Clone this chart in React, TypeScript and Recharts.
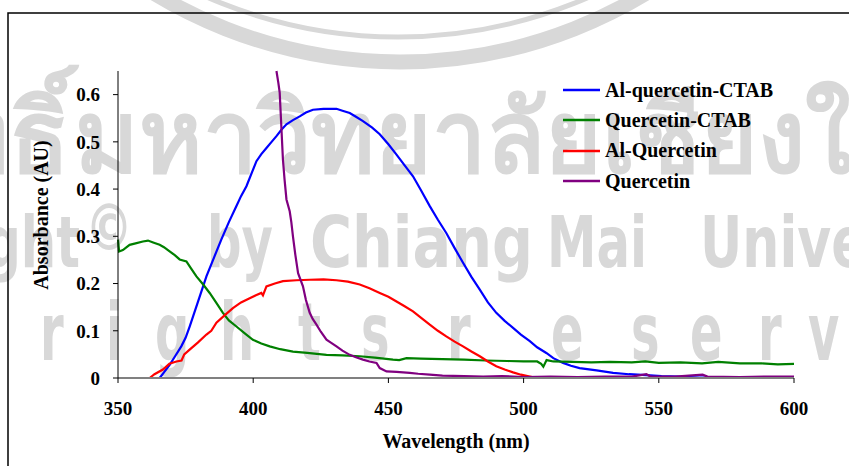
import React from 'react';
import { LineChart, Line, XAxis, YAxis, Legend } from 'recharts';

// [wavelength nm, absorbance AU]
const alQuercetinCtab: [number, number][] = [
  [365.4, 0], [367, 0.012], [369.1, 0.028], [371, 0.045], [373.4, 0.067], [375, 0.085],
  [376.5, 0.109], [379.5, 0.16], [382.7, 0.215], [385.5, 0.255], [388.2, 0.293], [391, 0.33],
  [393.8, 0.364], [395.5, 0.385], [397.5, 0.406], [399.5, 0.435], [401.2, 0.459], [403, 0.474],
  [404.9, 0.487], [406.8, 0.5], [408.6, 0.512], [410.5, 0.526], [412.3, 0.537], [414.7, 0.546],
  [417.2, 0.554], [419.5, 0.562], [422.1, 0.568], [426, 0.57], [430.8, 0.57], [433, 0.566],
  [435.7, 0.561], [438, 0.553], [440.6, 0.544], [444, 0.53], [446.8, 0.516], [450, 0.495],
  [453, 0.473], [456, 0.45], [459.1, 0.427], [462, 0.398], [465.3, 0.364], [468.3, 0.335],
  [471.4, 0.307], [474.5, 0.275], [477.6, 0.244], [480.7, 0.214], [483.8, 0.187], [486.8, 0.16],
  [489.9, 0.138], [493, 0.121], [496.1, 0.106], [499, 0.092], [502.3, 0.078], [505, 0.065],
  [508.4, 0.053], [511, 0.042], [514.6, 0.032], [517.5, 0.026], [520.7, 0.021], [527, 0.016],
  [533.1, 0.011], [539, 0.008], [545.4, 0.006], [551, 0.004], [557.7, 0.003], [565, 0.001],
  [575, 0.001], [585, 0], [600, 0],
];

const quercetinCtab: [number, number][] = [
  [350, 0.293], [350.4, 0.268], [351.8, 0.271], [354.3, 0.282], [356.5, 0.285], [359.2, 0.289],
  [361.1, 0.291], [363, 0.287], [365.4, 0.282], [367, 0.277], [369.1, 0.268], [371, 0.26],
  [372.8, 0.251], [375.3, 0.247], [377, 0.232], [379, 0.215], [381.5, 0.198], [383.9, 0.18],
  [386.5, 0.158], [388.8, 0.138], [391, 0.122], [393.8, 0.109], [397, 0.094], [399.9, 0.081],
  [403, 0.073], [406.1, 0.067], [410, 0.061], [414.7, 0.056], [420, 0.053], [427.1, 0.049],
  [433, 0.048], [439.4, 0.046], [445, 0.043], [451.7, 0.039], [454, 0.038], [456.7, 0.042],
  [462, 0.041], [470, 0.04], [478, 0.039], [486, 0.037], [494, 0.036], [500, 0.035],
  [505, 0.035], [506.5, 0.03], [507.3, 0.024], [508.5, 0.038], [511, 0.035], [518, 0.034],
  [525, 0.033], [532, 0.034], [540, 0.033], [545, 0.035], [550, 0.032], [558, 0.033],
  [566, 0.031], [572, 0.034], [580, 0.031], [588, 0.031], [594, 0.029], [600, 0.03],
];

const alQuercetin: [number, number][] = [
  [361.7, 0], [363.5, 0.008], [366.6, 0.018], [369, 0.03], [371.6, 0.035], [373.5, 0.037],
  [374.5, 0.05], [376.5, 0.06], [379.5, 0.075], [382.7, 0.092], [384.5, 0.1], [386.4, 0.117],
  [389.5, 0.133], [392.5, 0.148], [395.5, 0.16], [398.7, 0.169], [401, 0.175], [403, 0.18],
  [403.6, 0.175], [404.9, 0.194], [408, 0.2], [411, 0.205], [416, 0.207], [420.9, 0.208],
  [426, 0.209], [430.8, 0.207], [435, 0.204], [439.4, 0.198], [443, 0.19], [446.8, 0.18],
  [450, 0.172], [453, 0.162], [456, 0.152], [459.1, 0.141], [462, 0.128], [465.3, 0.113],
  [468.3, 0.1], [471.4, 0.088], [474.5, 0.077], [477.6, 0.067], [480.7, 0.056], [483.8, 0.046],
  [486.8, 0.035], [489.9, 0.025], [493, 0.018], [496.1, 0.012], [499, 0.007], [502.3, 0.003],
  [505, 0],
];

const quercetin: [number, number][] = [
  [408.6, 0.65], [409.3, 0.625], [409.8, 0.604], [410.4, 0.533], [411, 0.462], [411.6, 0.42],
  [412.3, 0.378], [413.5, 0.353], [414.1, 0.33], [414.7, 0.3], [415.6, 0.26], [416.6, 0.222],
  [418.4, 0.194], [419.5, 0.165], [420.9, 0.138], [422, 0.125], [423.4, 0.113], [425, 0.098],
  [427.1, 0.081], [429, 0.074], [430.8, 0.067], [433, 0.058], [435.7, 0.049], [438, 0.044],
  [440.6, 0.039], [443, 0.035], [445.6, 0.032], [446.8, 0.021], [449.3, 0.014], [453, 0.013],
  [457.9, 0.011], [461, 0.009], [465.3, 0.007], [470, 0.005], [478, 0.004], [485, 0.003],
  [492, 0.004], [500, 0.002], [510, 0.003], [520, 0.002], [530, 0.003], [540, 0.003],
  [545.4, 0.008], [547, 0.003], [556, 0.003], [566.2, 0.007], [568, 0.003], [580, 0.002],
  [590, 0.003], [600, 0.003],
];

const xTicks = [350, 400, 450, 500, 550, 600];
const yTicks = [0, 0.1, 0.2, 0.3, 0.4, 0.5, 0.6];

const series = [
  { name: 'Al-quercetin-CTAB', color: '#0000ff', points: alQuercetinCtab },
  { name: 'Quercetin-CTAB', color: '#008000', points: quercetinCtab },
  { name: 'Al-Quercetin', color: '#ff0000', points: alQuercetin },
  { name: 'Quercetin', color: '#800080', points: quercetin },
];

const SERIF = '"Liberation Serif", "Times New Roman", serif';
const SANS = '"DejaVu Sans", "Noto Sans", sans-serif';
const GREY = '#d8d8d8';

const toRows = (points: [number, number][]) => points.map(([nm, au]) => ({ nm, au }));

const tickStyle = { fill: '#000', fontSize: 19, fontWeight: 700, fontFamily: SERIF };

// "All rights reserved" letters are spread out across the page
const reservedX = [-230, -175, -130, -90, 40, 106, 155, 220, 298, 361, 410, 447, 551, 631, 690, 758, 808, 870, 930];

function Watermark() {
  const sx = 0.6;
  return (
    <svg width={849} height={466} style={{ position: 'absolute', left: 0, top: 0 }}>
      <g fill="none" stroke={GREY}>
        <circle cx={400} cy={-412} r={474} strokeWidth={15} />
        <circle cx={398} cy={-441} r={478} strokeWidth={5} />
      </g>
      <g fill={GREY} fontFamily={SANS} fontWeight={700}>
        <text x={70} y={172} fontSize={100} textAnchor="end">ลิขสิทธิ์</text>
        <text x={75} y={172} fontSize={100} textLength={905} lengthAdjust="spacingAndGlyphs">มหาวิทยาลัยเชียงใหม่</text>
        <text x={-195} y={267} fontSize={72} textLength={275} lengthAdjust="spacingAndGlyphs">Copyright</text>
        <text x={85} y={250} fontSize={64} textLength={48} lengthAdjust="spacingAndGlyphs">©</text>
        <text x={207} y={267} fontSize={72} textLength={66} lengthAdjust="spacingAndGlyphs">by</text>
        <text x={310} y={267} fontSize={72} textLength={223} lengthAdjust="spacingAndGlyphs">Chiang</text>
        <text x={547} y={267} fontSize={72} textLength={100} lengthAdjust="spacingAndGlyphs">Mai</text>
        <text x={700} y={267} fontSize={72} textLength={300} lengthAdjust="spacingAndGlyphs">University</text>
        <g transform={`scale(${sx} 1)`}>
          <text x={reservedX.map((v) => v / sx).join(' ')} y={360} fontSize={80}>All rights reserved</text>
        </g>
      </g>
      <path d="M8 466 V13 H849" fill="none" stroke="#000" strokeWidth={1.5} />
    </svg>
  );
}

const renderLegend = () => (
  <div style={{ fontFamily: SERIF, fontWeight: 700, fontSize: 20, color: '#000' }}>
    {series.map((s) => (
      <div key={s.name} style={{ display: 'flex', alignItems: 'center', height: 30.3, whiteSpace: 'nowrap' }}>
        <svg width={45} height={10}>
          <line x1={3} x2={40} y1={5} y2={5} stroke={s.color} strokeWidth={2.5} />
        </svg>
        <span>{s.name}</span>
      </div>
    ))}
  </div>
);

export default function App() {
  return (
    <div style={{ position: 'absolute', left: 0, top: 0, width: 849, height: 466, background: '#fff' }}>
      <Watermark />
      <div style={{ position: 'absolute', left: 0, top: 0 }}>
        <LineChart width={849} height={466} margin={{ top: 71, right: 55, left: 58, bottom: 58 }}>
          <XAxis
            type="number"
            dataKey="nm"
            domain={[350, 600]}
            ticks={xTicks}
            interval={0}
            height={30}
            tickSize={5}
            tickMargin={19}
            tick={tickStyle}
            axisLine={{ stroke: '#808080', strokeWidth: 2 }}
            tickLine={{ stroke: '#000' }}
            label={{
              content: () => (
                <text x={456} y={441} textAnchor="middle" dominantBaseline="central"
                  fontFamily={SERIF} fontWeight={700} fontSize={20} fill="#000">
                  Wavelength (nm)
                </text>
              ),
            }}
          />
          <YAxis
            type="number"
            domain={[0, 0.65]}
            ticks={yTicks}
            interval={0}
            width={60}
            tickSize={5}
            tickMargin={13}
            tick={tickStyle}
            axisLine={{ stroke: '#000' }}
            tickLine={{ stroke: '#000' }}
            label={{
              content: () => (
                <text x={0} y={0} transform="translate(41 215) rotate(-90)" textAnchor="middle"
                  dominantBaseline="central" fontFamily={SERIF} fontWeight={700} fontSize={20} fill="#000">
                  Absorbance (AU)
                </text>
              ),
            }}
          />
          <Legend
            layout="vertical"
            align="center"
            verticalAlign="middle"
            content={renderLegend}
            wrapperStyle={{ left: 560, top: 75, width: 280 }}
          />
          {series.map((s) => (
            <Line
              key={s.name}
              name={s.name}
              data={toRows(s.points)}
              dataKey="au"
              type="linear"
              stroke={s.color}
              strokeWidth={2.2}
              dot={false}
              activeDot={false}
              isAnimationActive={false}
            />
          ))}
        </LineChart>
      </div>
    </div>
  );
}
